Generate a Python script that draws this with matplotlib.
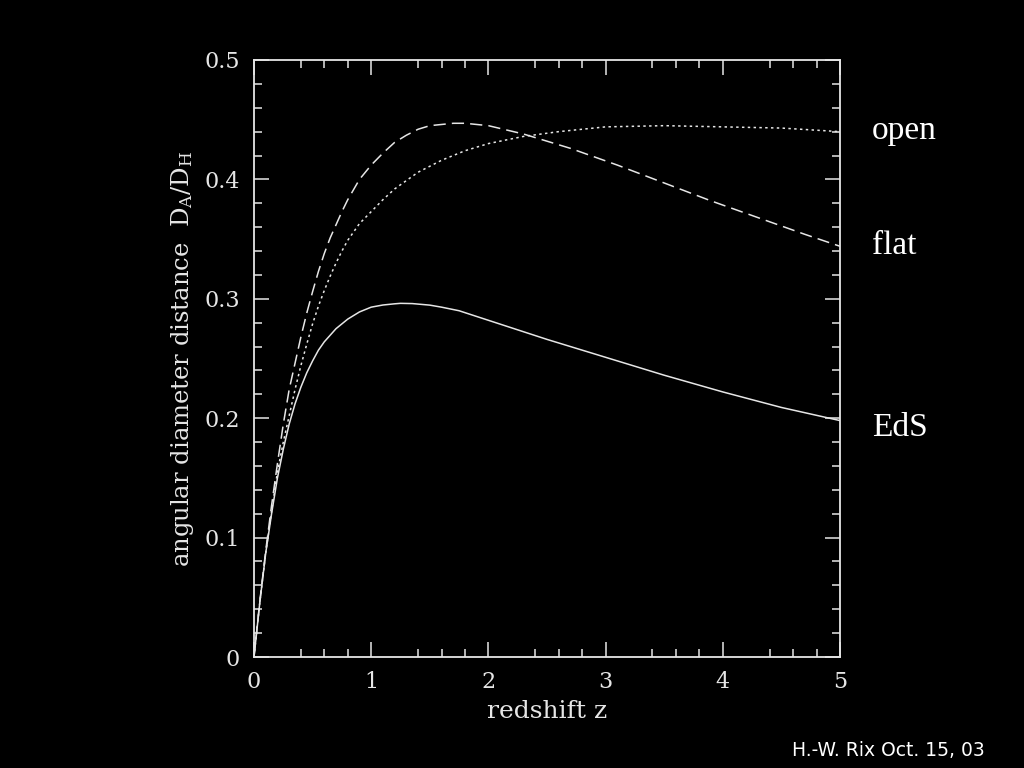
import matplotlib
matplotlib.use('Agg')
import matplotlib.pyplot as plt
from matplotlib.ticker import FixedLocator

# Values
z_eds = [0, 0.05, 0.1, 0.15, 0.2, 0.25, 0.3, 0.35, 0.4, 0.45, 0.5, 0.55, 0.6,
         0.7, 0.8, 0.9, 1.0, 1.1, 1.2, 1.25, 1.35, 1.5, 1.6, 1.75, 2.0, 2.5,
         3.0, 3.5, 4.0, 4.5, 5.0]
da_eds = [0, 0.046, 0.087, 0.120, 0.150, 0.174, 0.195, 0.212, 0.226, 0.238,
          0.248, 0.257, 0.264, 0.275, 0.283, 0.289, 0.293, 0.2948, 0.2958,
          0.2962, 0.296, 0.2947, 0.293, 0.290, 0.282, 0.266, 0.251, 0.236,
          0.222, 0.209, 0.198]

z_flat = [0, 0.05, 0.1, 0.15, 0.2, 0.25, 0.3, 0.35, 0.4, 0.45, 0.5, 0.55,
          0.6, 0.65, 0.7, 0.75, 0.8, 0.9, 1.0, 1.1, 1.2, 1.3, 1.4, 1.5, 1.6,
          1.7, 1.8, 2.0, 2.3, 2.7, 3.1, 3.5, 3.9, 4.3, 4.7, 5.0]
da_flat = [0, 0.047, 0.089, 0.127, 0.162, 0.195, 0.224, 0.246, 0.268, 0.288,
           0.306, 0.323, 0.338, 0.351, 0.362, 0.373, 0.383, 0.400, 0.412,
           0.422, 0.431, 0.437, 0.442, 0.445, 0.446, 0.447, 0.447, 0.445,
           0.438, 0.426, 0.412, 0.397, 0.382, 0.368, 0.354, 0.344]

z_open = [0, 0.05, 0.1, 0.15, 0.2, 0.25, 0.3, 0.35, 0.4, 0.45, 0.5, 0.55,
          0.6, 0.65, 0.7, 0.75, 0.8, 0.9, 1.0, 1.1, 1.2, 1.3, 1.4, 1.5, 1.6,
          1.7, 1.8, 2.0, 2.3, 2.6, 3.0, 3.5, 4.0, 4.5, 5.0]
da_open = [0, 0.046, 0.087, 0.122, 0.155, 0.180, 0.202, 0.224, 0.244, 0.262,
           0.279, 0.294, 0.307, 0.319, 0.330, 0.340, 0.349, 0.363, 0.373,
           0.383, 0.392, 0.399, 0.406, 0.411, 0.416, 0.420, 0.424, 0.430,
           0.436, 0.440, 0.444, 0.445, 0.444, 0.443, 0.440]

x_major = [0, 1, 2, 3, 4, 5]
x_minor = [0.4, 0.6, 0.8, 1.4, 1.6, 1.8, 2.4, 2.6, 2.8, 3.4, 3.6, 3.8,
           4.4, 4.6, 4.8]
y_major = [0, 0.1, 0.2, 0.3, 0.4, 0.5]
y_tick_labels = ['0', '0.1', '0.2', '0.3', '0.4', '0.5']

plt.rcParams['mathtext.fontset'] = 'dejavuserif'

fig = plt.figure(figsize=(10.24, 7.68), dpi=100, facecolor='black')
ax = fig.add_axes([254 / 1024, 1 - 657 / 768, 586 / 1024, 597 / 768])
ax.set_facecolor('black')

fg = '#e6e6e6'
ax.plot(z_eds, da_eds, color=fg, lw=1.1, linestyle='-')
ax.plot(z_flat, da_flat, color=fg, lw=1.1, linestyle=(0, (8, 4)))
ax.plot(z_open, da_open, color=fg, lw=1.1, linestyle=(0, (1.6, 2.2)))

ax.set_xlim(0, 5)
ax.set_ylim(0, 0.5)
ax.xaxis.set_major_locator(FixedLocator(x_major))
ax.xaxis.set_minor_locator(FixedLocator(x_minor))
ax.set_yticks(y_major)
ax.set_yticklabels(y_tick_labels)
ax.yaxis.set_minor_locator(FixedLocator([v / 100 for v in range(0, 51, 2)]))

for s in ax.spines.values():
    s.set_color(fg)
    s.set_linewidth(1.3)

ax.tick_params(which='both', direction='in', top=True, right=True,
               colors=fg, width=1.1)
ax.tick_params(which='major', length=11)
ax.tick_params(which='minor', length=5.5)
ax.tick_params(axis='x', which='major', pad=10)
ax.tick_params(axis='y', which='major', pad=10)
for lab in ax.get_xticklabels() + ax.get_yticklabels():
    lab.set_fontfamily('DejaVu Serif')
    lab.set_fontsize(16)
    lab.set_color(fg)

ax.set_xlabel('redshift z', family='DejaVu Serif', fontsize=18, color=fg,
              labelpad=5)
ax.set_ylabel('angular diameter distance  D$_\\mathrm{A}$/D$_\\mathrm{H}$',
              family='DejaVu Serif', fontsize=17.5, color=fg, labelpad=6)

# Curve names on the right
fig.text(872 / 1024, 1 - 131 / 768, 'open', family='Liberation Serif',
         fontsize=24, color='white', va='center', ha='left')
fig.text(872 / 1024, 1 - 246 / 768, 'flat', family='Liberation Serif',
         fontsize=24, color='white', va='center', ha='left')
fig.text(872 / 1024, 1 - 428 / 768, 'EdS', family='Liberation Serif',
         fontsize=24, color='white', va='center', ha='left')

fig.text(985 / 1024, 1 - 750 / 768, 'H.-W. Rix Oct. 15, 03',
         family='DejaVu Sans', fontsize=13.5, color='white',
         va='center', ha='right')

fig.savefig('out.png', dpi=100, facecolor='black')
